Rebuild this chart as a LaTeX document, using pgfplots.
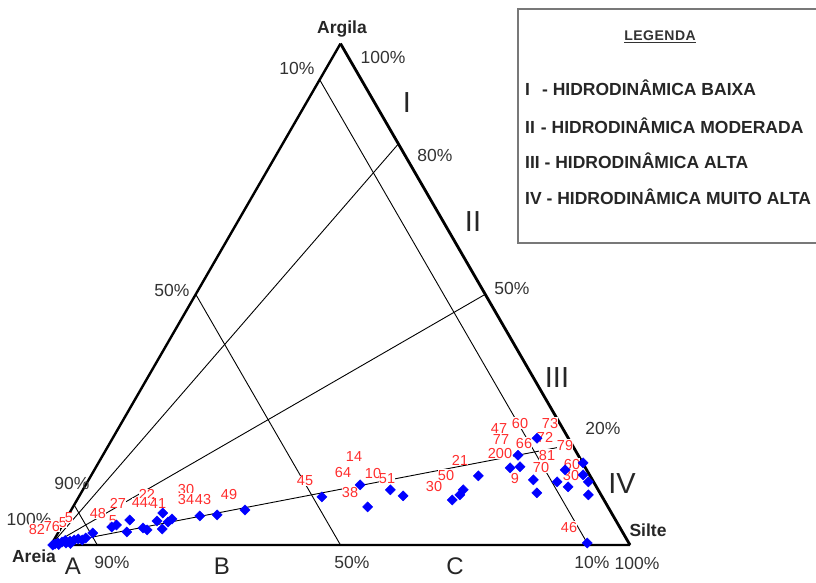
\documentclass[border=0pt]{standalone}
\usepackage{pgfplots}
\usepackage{pgfplotstable}
\pgfplotsset{compat=1.18}
\usepackage{fontspec}
\setmainfont{Liberation Sans}
\definecolor{lab}{RGB}{255,45,45}
\definecolor{pct}{RGB}{50,50,50}
\definecolor{lgd}{RGB}{120,120,120}

% ternary -> picture coordinates (sand = 100 - silt - clay)
\newcommand\TX{51+5.79*(\thisrow{silt}+0.5*\thisrow{clay})}
\newcommand\TY{545-5.014*\thisrow{clay}}

\pgfplotstableread{
silt clay
0.3 0.0
0.6 0.2
1.0 0.4
1.3 0.1
1.6 0.6
2.0 0.9
2.4 0.4
2.9 0.8
3.2 0.3
3.5 1.0
4.1 1.2
4.9 1.0
5.3 1.4
6.0 2.4
8.7 3.6
9.3 4.0
11.8 2.6
11.1 5.0
14.2 3.4
15.1 3.0
15.9 4.8
16.1 6.4
17.6 3.2
17.9 4.6
18.3 5.2
22.8 5.8
25.7 6.0
30.0 7.0
42.0 9.6
47.4 12.0
50.9 7.6
53.1 11.0
55.9 9.8
64.8 9.0
65.6 10.0
65.7 11.0
66.9 13.8
71.6 15.4
71.7 17.9
73.2 15.6
73.3 21.3
76.8 13.0
78.7 10.4
81.1 12.6
81.3 15.0
83.5 11.6
83.7 16.4
84.9 14.0
86.5 12.6
87.8 10.0
92.4 0.4
}\pts

\pgfplotstableread{
x y lab
37 529 82
52 526 76
63 523 5
69 518 5
98 513 48
113 521 5
147 494 22
118 503 27
136 503 4
148 503 44
158 504 41
186 489 30
186 499 34
203 499 43
229 494 49
305 481 45
343 472 64
354 457 14
350 492 38
373 473 10
387 479 51
434 486 30
446 475 50
460 460 21
499 429 47
500 453 200
501 440 77
520 423 60
524 443 66
515 478 9
545 437 72
550 423 73
565 445 79
547 455 81
541 467 70
571 475 30
572 464 60
569 527 46
}\labels

\begin{document}
\begin{tikzpicture}
\begin{axis}[name=ax, at={(0,0)}, anchor=south west,
  scale only axis, width=816pt, height=582pt,
  xmin=0, xmax=816, ymin=0, ymax=582, y dir=reverse,
  hide axis, clip=false]

% Pejrup internal lines
\addplot[black, line width=0.9pt] table[row sep=\\, x expr=\TX, y expr=\TY]
  {silt clay\\ 0 92.8\\ 92.8 0\\};
\addplot[black, line width=0.9pt] table[row sep=\\, x expr=\TX, y expr=\TY]
  {silt clay\\ 0 50\\ 50 0\\};
\addplot[black, line width=0.9pt] table[row sep=\\, x expr=\TX, y expr=\TY]
  {silt clay\\ 0 8\\ 8 0\\};
\addplot[black, line width=0.9pt] table[row sep=\\, x expr=\TX, y expr=\TY]
  {silt clay\\ 0 0\\ 20 80\\};
\addplot[black, line width=0.9pt] table[row sep=\\, x expr=\TX, y expr=\TY]
  {silt clay\\ 0 0\\ 50 50\\};
\addplot[black, line width=0.9pt] table[row sep=\\, x expr=\TX, y expr=\TY]
  {silt clay\\ 0 0\\ 80 20\\};

% triangle
\addplot[black, line width=2.4pt, line join=miter] table[row sep=\\, x expr=\TX, y expr=\TY]
  {silt clay\\ 100 0\\ 0 0\\ 0 100\\};
\addplot[black, line width=2.8pt] table[row sep=\\, x expr=\TX, y expr=\TY]
  {silt clay\\ 0 100\\ 100 0\\};

% sample labels
\addplot[draw=none, mark=none, nodes near coords, point meta=explicit symbolic,
  nodes near coords align={center},
  every node near coord/.append style={font=\fontsize{14.5}{14.5}\selectfont,
    text=lab, fill=white, inner sep=0.4pt}]
  table[x=x, y=y, meta=lab] {\labels};

% samples
\addplot[only marks, mark=square*, mark size=3.6pt, color=blue, fill=blue,
  mark options={rotate=45}]
  table[x expr=\TX, y expr=\TY] {\pts};

% vertex and percent labels
\node[font=\fontsize{17.5}{17.5}\selectfont\bfseries, text=black!85] at (axis cs:342,29) {Argila};
\node[font=\fontsize{17.5}{17.5}\selectfont\bfseries, text=black!85] at (axis cs:648,530) {Silte};
\node[font=\fontsize{17.5}{17.5}\selectfont\bfseries, text=black!85] at (axis cs:34,556) {Areia};
\begin{scope}[every node/.style={font=\fontsize{17.5}{17.5}\selectfont, text=pct}]
\node at (axis cs:383,57) {100\%};
\node at (axis cs:297,68) {10\%};
\node at (axis cs:172,290) {50\%};
\node at (axis cs:72,483) {90\%};
\node at (axis cs:29,519) {100\%};
\node at (axis cs:435,155) {80\%};
\node at (axis cs:512,288) {50\%};
\node at (axis cs:603,428) {20\%};
\node at (axis cs:112,562) {90\%};
\node at (axis cs:352,562) {50\%};
\node at (axis cs:592,562) {10\%};
\node at (axis cs:637,563) {100\%};
\end{scope}
\begin{scope}[every node/.style={font=\fontsize{24}{24}\selectfont, text=black!85, anchor=north, inner ysep=0pt}]
\node[fill=white, inner xsep=7pt] at (axis cs:73,558) {A};
\node at (axis cs:222,558) {B};
\node at (axis cs:455,558) {C};
\end{scope}
\begin{scope}[every node/.style={font=\fontsize{29}{29}\selectfont, text=black!85}]
\node at (axis cs:407,103) {I};
\node at (axis cs:473,222) {II};
\node at (axis cs:557,378) {III};
\node at (axis cs:622,484) {IV};
\end{scope}

% legend box
\draw[lgd, line width=1.3pt] (axis cs:816,9) -- (axis cs:518,9) -- (axis cs:518,243) -- (axis cs:816,243);
\node[font=\fontsize{14}{14}\selectfont\bfseries, text=black!80] at (axis cs:660,37) {\underline{L\kern0.5pt E\kern0.5pt G\kern0.5pt E\kern0.5pt N\kern0.5pt D\kern0.5pt A}};
\begin{scope}[every node/.style={font=\fontsize{17.5}{17.5}\selectfont\bfseries, text=black!85, anchor=west, inner sep=0pt}]
\node at (axis cs:525,88) {I\hspace{12pt}- HIDRODINÂMICA BAIXA};
\node at (axis cs:525,126) {II\hspace{6pt}- HIDRODINÂMICA MODERADA};
\node at (axis cs:525,161) {III - HIDRODINÂMICA ALTA};
\node at (axis cs:525,197) {IV - HIDRODINÂMICA MUITO ALTA};
\end{scope}
\end{axis}
\pgfresetboundingbox
\useasboundingbox (ax.south west) rectangle (ax.north east);
\end{tikzpicture}
\end{document}
